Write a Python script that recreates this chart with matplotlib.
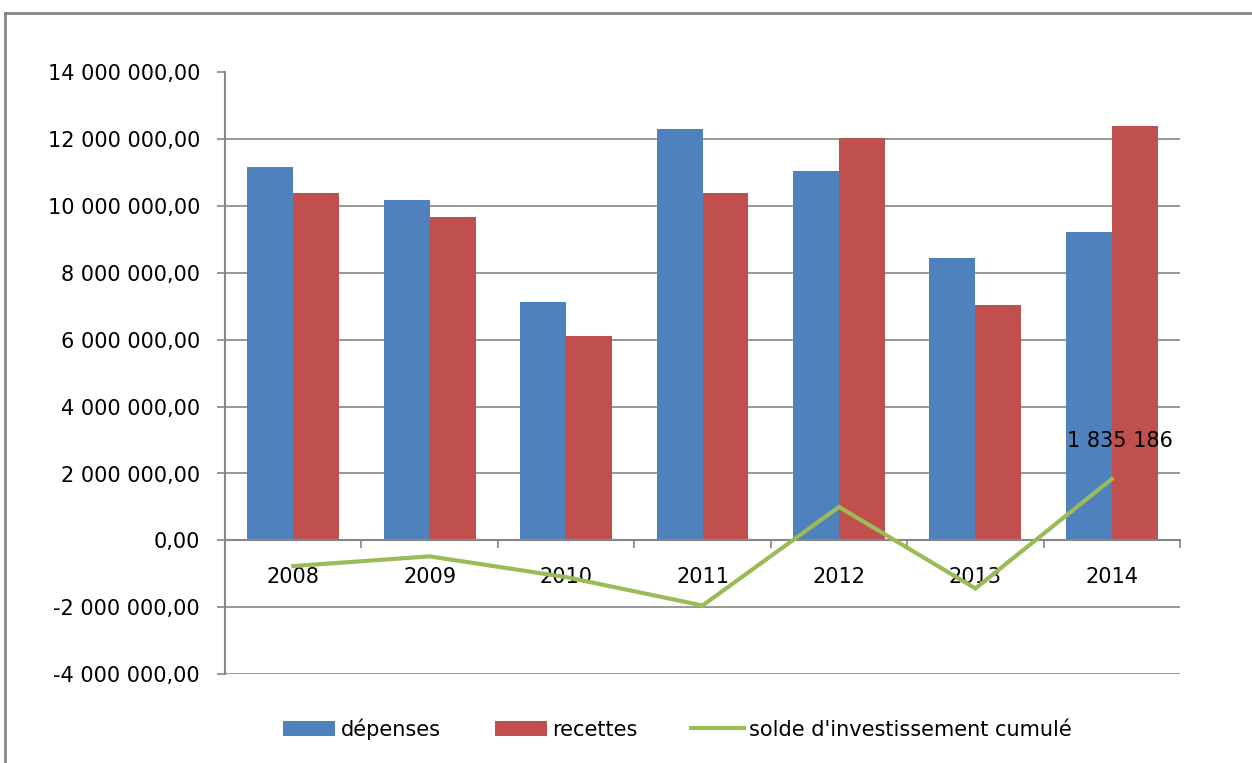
import matplotlib
matplotlib.use("Agg")
import matplotlib.pyplot as plt
import numpy as np
from matplotlib.lines import Line2D
from matplotlib.ticker import FuncFormatter, FixedLocator

years = ["2008", "2009", "2010", "2011", "2012", "2013", "2014"]
depenses = [11170000, 10180000, 7130000, 12310000, 11050000, 8440000, 9220000]
recettes = [10390000, 9670000, 6110000, 10390000, 12040000, 7040000, 12400000]
solde = [-770000, -480000, -1100000, -1950000, 1000000, -1440000, 1835186]
solde_label = "1 835 186"

plt.rcParams['font.family'] = ['DejaVu Sans']
FS = 15

fig = plt.figure(figsize=(12.52, 7.63), dpi=100)
ax = fig.add_axes([225/1252, 1-674/763, (1180-225)/1252, (674-72.5)/763])

x = np.arange(len(years))
w = 0.337
c_blue, c_red, c_green = "#4F81BD", "#C0504D", "#9BBB59"
grid_c = "#868686"

h1 = ax.bar(x - w/2, depenses, w, color=c_blue, label="dépenses", zorder=2)
h2 = ax.bar(x + w/2, recettes, w, color=c_red, label="recettes", zorder=2)
h3, = ax.plot(x, solde, color=c_green, lw=3, label="solde d'investissement cumulé", zorder=4,
              solid_joinstyle='miter')

ax.set_ylim(-4e6, 14e6)
ax.set_xlim(-0.5, len(years) - 0.5)
ax.set_yticks(np.arange(-4e6, 14e6 + 1, 2e6))
ax.yaxis.set_major_formatter(FuncFormatter(
    lambda v, p: f"{v:,.2f}".replace(",", " ").replace(".", ",")))
ax.grid(axis='y', color=grid_c, lw=1.2, zorder=0)
ax.set_axisbelow(True)

for s in ['top', 'right']:
    ax.spines[s].set_visible(False)
ax.spines['left'].set_color(grid_c)
ax.spines['left'].set_linewidth(1.5)
ax.spines['bottom'].set_position(('data', 0))
ax.spines['bottom'].set_color(grid_c)
ax.spines['bottom'].set_linewidth(1.5)
ax.spines['bottom'].set_zorder(3)

ax.set_xticks(x)
ax.set_xticklabels(years)
ax.xaxis.set_minor_locator(FixedLocator(np.arange(-0.5, len(years), 1.0)))
ax.tick_params(axis='x', which='major', length=0, pad=19, labelsize=FS)
ax.tick_params(axis='x', which='minor', length=6, width=1.2, color=grid_c, direction='out')
ax.tick_params(axis='y', length=6, width=1.2, color=grid_c, labelsize=FS, pad=12)

ax.annotate(solde_label, (x[-1], solde[-1]), xytext=(6, 20), textcoords='offset points',
            ha='center', va='bottom', fontsize=FS)

fig.legend(handles=[h1, h2, h3], loc='center', bbox_to_anchor=(0.541, 1 - 729/763), ncol=3,
           frameon=False, fontsize=FS, handlelength=2.5, handleheight=0.75,
           columnspacing=2.6, handletextpad=0.25)

fig.add_artist(Line2D([5/1252, 1], [1 - 13/763, 1 - 13/763], color=grid_c, lw=2,
                      transform=fig.transFigure))
fig.add_artist(Line2D([5/1252, 5/1252], [0, 1 - 13/763], color=grid_c, lw=2,
                      transform=fig.transFigure))

fig.savefig("out.png", dpi=100)
